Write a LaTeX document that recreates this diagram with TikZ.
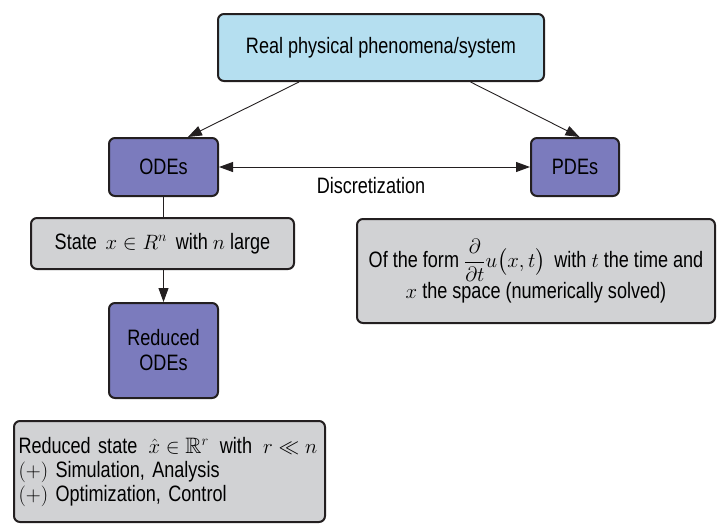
\documentclass[tikz,border=0pt]{standalone}
\usepackage{amsmath,amssymb}
\usepackage{fontspec}
\setmainfont{Liberation Sans}[FakeStretch=0.81]
\usetikzlibrary{arrows.meta,calc}
\definecolor{topblue}{HTML}{B5DFF0}
\definecolor{odepurple}{HTML}{7B7BBD}
\definecolor{boxgray}{HTML}{D1D2D4}
\definecolor{edge}{HTML}{231F20}
\tikzset{
  box/.style={draw=edge, line width=2pt, rounded corners=6pt, inner sep=0pt, anchor=north west, align=center},
  bluebox/.style={box, fill=topblue},
  purplebox/.style={box, fill=odepurple},
  graybox/.style={box, fill=boxgray},
  arr/.style={draw=edge, line width=0.9pt, -{Triangle[length=14pt,width=10pt]}},
  darr/.style={draw=edge, line width=0.9pt, {Triangle[length=14pt,width=10pt]}-{Triangle[length=14pt,width=10pt]}},
  plain/.style={draw=edge, line width=0.9pt}
}
\begin{document}
\begin{tikzpicture}[x=1pt,y=-1pt, font=\fontsize{22.3}{26}\selectfont]
\useasboundingbox (0,0) rectangle (721,523);
\node[bluebox, minimum width=326pt, minimum height=67pt] (top) at (217,13) {Real physical phenomena/system};
\node[purplebox, minimum width=109pt, minimum height=58pt] (ode) at (108,137) {ODEs};
\node[purplebox, minimum width=88pt, minimum height=58pt] (pde) at (530,137) {PDEs};
\node[graybox, minimum width=263pt, minimum height=51pt] (state) at (30,217) {State\, $x\in R^n$\, with $n$ large};
\node[graybox, minimum width=358pt, minimum height=104pt, font=\fontsize{22.3}{29}\selectfont] (pdedesc) at (356,218) {Of the form $\dfrac{\partial}{\partial t}u\bigl(x,t\bigr)$\, with $t$ the time and\\$x$ the space (numerically solved)};
\node[purplebox, minimum width=109pt, minimum height=95pt, font=\fontsize{22.3}{25}\selectfont] (red) at (108,302) {Reduced\\ODEs};
\node[graybox, minimum width=311pt, minimum height=101pt, align=left, text width=302pt, font=\fontsize{22.3}{24}\selectfont] (redstate) at (13,420) {Reduced state\, $\hat{x}\in\mathbb{R}^r$\, with\, $r\ll n$\\$(+)$ Simulation, Analysis\\$(+)$ Optimization, Control};
\node (disc) at (371,186) {Discretization};
\draw[arr] ($(top.south west)!0.25!(top.south east)$) -- ($(ode.north west)!0.72!(ode.north east)$);
\draw[arr] ($(top.south west)!0.773!(top.south east)$) -- ($(pde.north west)!0.55!(pde.north east)$);
\draw[darr] (ode.east) -- (pde.west);
\draw[plain] (ode.south) -- (ode.south |- state.north);
\draw[arr] (ode.south |- state.south) -- (red.north);
\end{tikzpicture}
\end{document}
